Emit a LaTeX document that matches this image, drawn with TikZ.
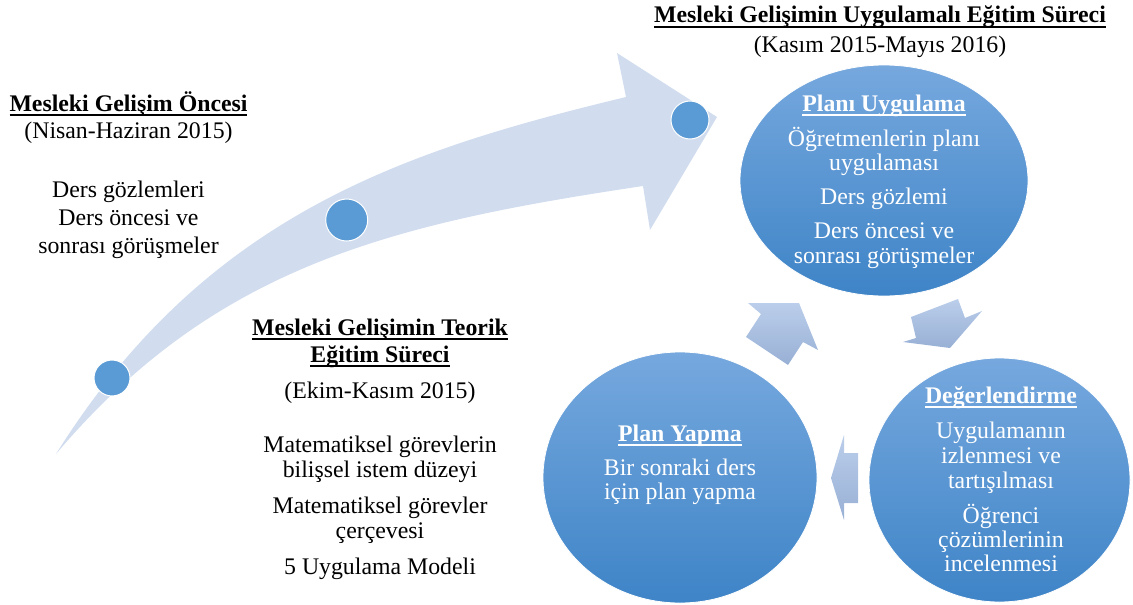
\documentclass[tikz,border=0pt]{standalone}
\usepackage{fontspec}
\setmainfont{Liberation Serif}
\usetikzlibrary{shapes.geometric}
\definecolor{arrowband}{RGB}{209,221,239}
\definecolor{dotblue}{RGB}{91,155,213}
\definecolor{circtop}{RGB}{118,168,222}
\definecolor{circbot}{RGB}{62,132,199}
\definecolor{smtop}{RGB}{187,206,235}
\definecolor{smbot}{RGB}{152,176,213}
\newcommand{\ulbox}[1]{\setbox0\hbox{#1}\rlap{\raisebox{-4.8pt}{\rule{\wd0}{1.5pt}}}\box0}
\begin{document}
\begin{tikzpicture}[x=1pt,y=-1pt,
  tx/.style={anchor=base, inner sep=0pt, font=\fontsize{23.8pt}{27pt}\selectfont},
  wtx/.style={tx, text=white},
  bigcirc/.style={ellipse, inner sep=0pt, top color=circtop, bottom color=circbot, draw=white, line width=0.8pt},
  dot/.style={circle, inner sep=0pt, fill=dotblue, draw=white, line width=1pt},
  cyclearrow/.style={top color=smtop, bottom color=smbot, draw=none}]
\useasboundingbox (0,0) rectangle (1133,605);

% big curved arrow
\fill[arrowband] (56,454) .. controls (206,214) and (406,150) .. (626,97) -- (617,53) -- (717,117) -- (650,230) -- (643,186) .. controls (393,223.5) and (216,265) .. (56,454) -- cycle;

% dots on the arrow
\node[dot, minimum size=36pt] (d1) at (112,378) {};
\node[dot, minimum size=42pt] (d2) at (346.7,220) {};
\node[dot, minimum size=38pt] (d3) at (690,120) {};

% cycle circles
\node[bigcirc, minimum width=288pt, minimum height=231pt] (uyg) at (884,180.5) {};
\node[bigcirc, minimum width=274pt, minimum height=251pt] (yap) at (680,477.5) {};
\node[bigcirc, minimum width=261pt, minimum height=244pt] (deg) at (999.5,480) {};

% small cycle arrows
\path[cyclearrow] (748,303) -- (799,303) -- (818,350) -- (803,342) -- (788,365) -- (746,337) -- (761,314) -- cycle;
\path[cyclearrow] (911,317) -- (958,299) -- (965,318) -- (982,311) -- (950,348) -- (903,342) -- (916,338) -- cycle;
\path[cyclearrow] (831,478) -- (844,435) -- (844,453) -- (858,453) -- (858,503) -- (844,503) -- (844,520) -- cycle;

% top-left text
\node[tx] (a1) at (128.5,111) {\ulbox{\textbf{Mesleki Gelişim Öncesi}}};
\node[tx] (a2) at (128.5,138) {(Nisan-Haziran 2015)};
\node[tx] (a3) at (128.5,197) {Ders gözlemleri};
\node[tx] (a4) at (128.5,225) {Ders öncesi ve};
\node[tx] (a5) at (128.5,253) {sonrası görüşmeler};

% top-right title
\node[tx] (b1) at (880,23) {\ulbox{\textbf{Mesleki Gelişimin Uygulamalı Eğitim Süreci}}};
\node[tx] (b2) at (880,52) {(Kasım 2015-Mayıs 2016)};

% middle text
\node[tx] (c1) at (380,335) {\ulbox{\textbf{Mesleki Gelişimin Teorik}}};
\node[tx] (c2) at (380,362) {\ulbox{\textbf{Eğitim Süreci}}};
\node[tx] (c3) at (380,398) {(Ekim-Kasım 2015)};
\node[tx] (c4) at (380,452) {Matematiksel görevlerin};
\node[tx] (c5) at (380,477) {bilişsel istem düzeyi};
\node[tx] (c6) at (380,513) {Matematiksel görevler};
\node[tx] (c7) at (380,538) {çerçevesi};
\node[tx] (c8) at (380,574) {5 Uygulama Modeli};

% Planı Uygulama
\node[wtx] (u1) at (884,111) {\ulbox{\textbf{Planı Uygulama}}};
\node[wtx] (u2) at (884,146) {Öğretmenlerin planı};
\node[wtx] (u3) at (884,170) {uygulaması};
\node[wtx] (u4) at (884,204) {Ders gözlemi};
\node[wtx] (u5) at (884,238.5) {Ders öncesi ve};
\node[wtx] (u6) at (884,263) {sonrası görüşmeler};

% Plan Yapma
\node[wtx] (p1) at (680,441) {\ulbox{\textbf{Plan Yapma}}};
\node[wtx] (p2) at (680,475) {Bir sonraki ders};
\node[wtx] (p3) at (680,499) {için plan yapma};

% Değerlendirme
\node[wtx] (e1) at (1001,403) {\ulbox{\textbf{Değerlendirme}}};
\node[wtx] (e2) at (1001,438) {Uygulamanın};
\node[wtx] (e3) at (1001,463) {izlenmesi ve};
\node[wtx] (e4) at (1001,488) {tartışılması};
\node[wtx] (e5) at (1001,523) {Öğrenci};
\node[wtx] (e6) at (1001,547) {çözümlerinin};
\node[wtx] (e7) at (1001,571) {incelenmesi};
\end{tikzpicture}
\end{document}
